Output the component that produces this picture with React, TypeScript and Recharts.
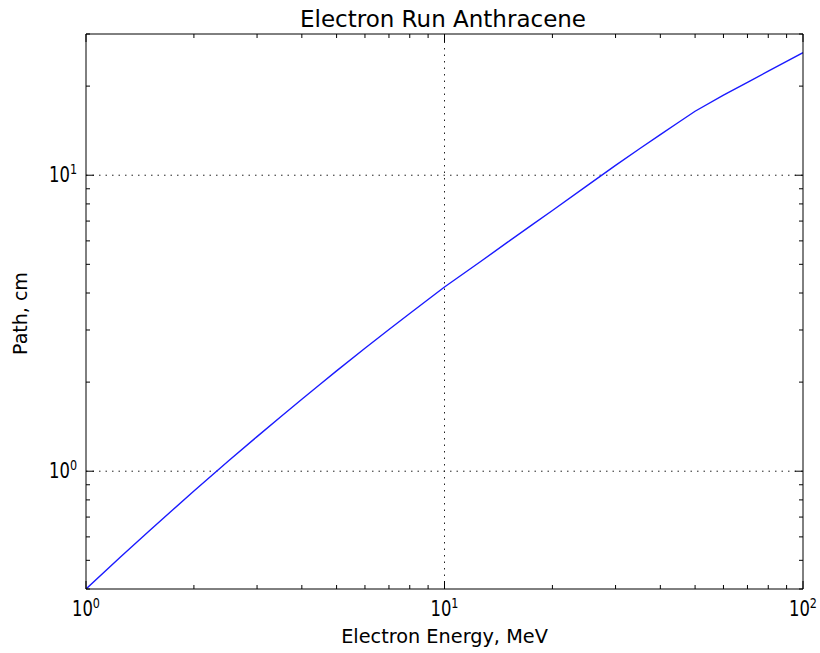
import React from 'react';
import { LineChart, Line, XAxis, YAxis, ReferenceLine } from 'recharts';

const energy = [1, 1.25, 1.5, 1.75, 2, 2.5, 3, 3.5, 4, 4.5, 5, 6, 7, 8, 9, 10, 12.5, 15, 17.5, 20, 25, 30, 35, 40, 45, 50, 60, 70, 80, 90, 100];
const pathCm = [0.400, 0.514, 0.628, 0.742, 0.857, 1.084, 1.309, 1.531, 1.751, 1.967, 2.182, 2.602, 3.012, 3.412, 3.803, 4.19, 5.07, 5.94, 6.78, 7.60, 9.22, 10.80, 12.29, 13.72, 15.10, 16.45, 18.66, 20.61, 22.46, 24.24, 25.94];

const xMajor = [1, 10, 100];
const xMinor = [2, 3, 4, 5, 6, 7, 8, 9, 20, 30, 40, 50, 60, 70, 80, 90];
const yMajor = [1, 10];
const yMinor = [0.4, 0.5, 0.6, 0.7, 0.8, 0.9, 2, 3, 4, 5, 6, 7, 8, 9, 20, 30];
const xDomain = [1, 100];
const yDomain = [0.4, 30];

const title = 'Electron Run Anthracene';
const xLabel = 'Electron Energy, MeV';
const yLabel = 'Path, cm';

const data = energy.map((e, i) => ({ energy: e, path: pathCm[i] }));
const xTicks = [...xMajor, ...xMinor].sort((a, b) => a - b);
const yTicks = [...yMajor, ...yMinor].sort((a, b) => a - b);

const FONT = '"DejaVu Sans", sans-serif';
const TICK_FS = 20.5;
const SUP_FS = 14;
const MAJOR_LEN = 8;
const MINOR_LEN = 4;

const isMajor = (v: number, majors: number[]) => majors.some((m) => Math.abs(m - v) < 1e-9);
const exponent = (v: number) => Math.round(Math.log10(v));

const PowerLabel = ({ x, y, anchor, v }: any) => (
  <g transform={`translate(${x},${y}) scale(0.8,1)`}>
    <text x={0} y={0} textAnchor={anchor} fontFamily={FONT} fontSize={TICK_FS} fill="#000">
      10
      <tspan dy={-8} fontSize={SUP_FS}>{exponent(v)}</tspan>
    </text>
  </g>
);

const makeXTick = (side: 'bottom' | 'top') => (props: any) => {
  const { x, y, payload } = props;
  const v = payload.value;
  const major = isMajor(v, xMajor);
  const len = major ? MAJOR_LEN : MINOR_LEN;
  const dir = side === 'bottom' ? -1 : 1;
  return (
    <g>
      <line x1={x} x2={x} y1={y} y2={y + dir * len} stroke="#000" strokeWidth={1} />
      {side === 'bottom' && major && <PowerLabel x={x} y={y + 27} anchor="middle" v={v} />}
    </g>
  );
};

const makeYTick = (side: 'left' | 'right') => (props: any) => {
  const { x, y, payload } = props;
  const v = payload.value;
  const major = isMajor(v, yMajor);
  const len = major ? MAJOR_LEN : MINOR_LEN;
  const dir = side === 'left' ? 1 : -1;
  return (
    <g>
      <line x1={x} x2={x + dir * len} y1={y} y2={y} stroke="#000" strokeWidth={1} />
      {side === 'left' && major && <PowerLabel x={x - 9} y={y + 6.5} anchor="end" v={v} />}
    </g>
  );
};

const axisLineStyle = { stroke: '#000', strokeWidth: 1 };

export default function App() {
  return (
    <div style={{ position: 'absolute', left: 0, top: 0, width: 820, height: 653, background: '#fff' }}>
      <LineChart width={820} height={653} data={data} margin={{ top: 0, right: 0, bottom: 0, left: 0 }}>
        <XAxis
          xAxisId="bottom"
          dataKey="energy"
          type="number"
          scale="log"
          domain={xDomain}
          allowDataOverflow
          ticks={xTicks}
          interval={0}
          orientation="bottom"
          height={64}
          tickLine={false}
          tickSize={0}
          tickMargin={0}
          axisLine={axisLineStyle}
          tick={makeXTick('bottom')}
        />
        <XAxis
          xAxisId="top"
          dataKey="energy"
          type="number"
          scale="log"
          domain={xDomain}
          allowDataOverflow
          ticks={xTicks}
          interval={0}
          orientation="top"
          height={34}
          tickLine={false}
          tickSize={0}
          tickMargin={0}
          axisLine={axisLineStyle}
          tick={makeXTick('top')}
        />
        <YAxis
          yAxisId="left"
          type="number"
          scale="log"
          domain={yDomain}
          allowDataOverflow
          ticks={yTicks}
          interval={0}
          orientation="left"
          width={86}
          tickLine={false}
          tickSize={0}
          tickMargin={0}
          axisLine={axisLineStyle}
          tick={makeYTick('left')}
        />
        <YAxis
          yAxisId="right"
          type="number"
          scale="log"
          domain={yDomain}
          allowDataOverflow
          ticks={yTicks}
          interval={0}
          orientation="right"
          width={17}
          tickLine={false}
          tickSize={0}
          tickMargin={0}
          axisLine={axisLineStyle}
          tick={makeYTick('right')}
        />
        {[10].map((v) => (
          <ReferenceLine key={'gx' + v} x={v} xAxisId="bottom" yAxisId="left" stroke="#222" strokeWidth={1} strokeDasharray="1.5 5" />
        ))}
        {yMajor.map((v) => (
          <ReferenceLine key={'gy' + v} y={v} xAxisId="bottom" yAxisId="left" stroke="#222" strokeWidth={1} strokeDasharray="1.5 5" />
        ))}
        <Line
          xAxisId="bottom"
          yAxisId="left"
          dataKey="path"
          type="linear"
          stroke="#1a1aff"
          strokeWidth={1.4}
          dot={false}
          isAnimationActive={false}
        />
      </LineChart>
      <svg width={820} height={653} style={{ position: 'absolute', left: 0, top: 0, pointerEvents: 'none' }}>
        <text x={443} y={27} textAnchor="middle" fontFamily={FONT} fontSize={23} fill="#000">{title}</text>
        <text x={444.5} y={643} textAnchor="middle" fontFamily={FONT} fontSize={19.3} fill="#000">{xLabel}</text>
        <text x={27} y={313.5} textAnchor="middle" fontFamily={FONT} fontSize={19} fill="#000" transform="rotate(-90 27 313.5)">{yLabel}</text>
      </svg>
    </div>
  );
}
